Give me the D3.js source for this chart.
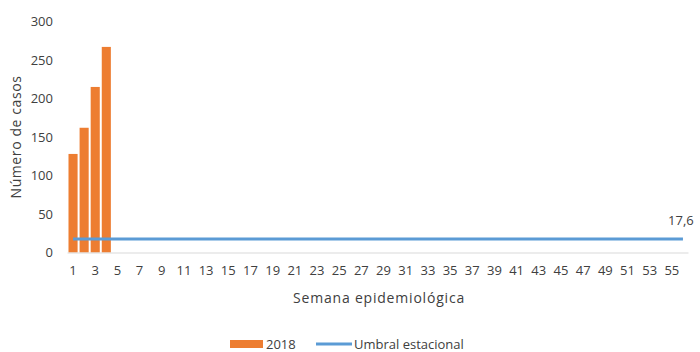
<!DOCTYPE html>
<html><head><meta charset="utf-8">
<script src="https://cdn.jsdelivr.net/npm/d3@7"></script>
<style>body{margin:0;background:#fff;} text{font-family:"Open Sans",sans-serif;fill:#404040;}</style>
</head><body>
<svg id="c" width="700" height="352"></svg>
<script>
const weeks = d3.range(1, 57);
const cases2018 = [128, 162, 215, 267];
const threshold = 17.6;
const yTicks = [0, 50, 100, 150, 200, 250, 300];
const xTickLabels = weeks.filter(w => w % 2 === 1);

const svg = d3.select("#c");
const m = {l: 67.5, r: 688.5, t: 21.5, b: 252.5};
const x = d3.scaleBand().domain(weeks).range([m.l, m.r]).paddingInner(0.18).paddingOuter(0.09);
const y = d3.scaleLinear().domain([0, 300]).range([m.b, m.t]);

// y axis labels
svg.append("g").selectAll("text").data(yTicks).join("text")
  .attr("x", 53).attr("y", d => y(d)).attr("dy", "0.35em")
  .attr("text-anchor", "end").attr("font-size", 13).text(d => d);

// bars
svg.append("g").selectAll("rect").data(cases2018).join("rect")
  .attr("x", (d, i) => x(weeks[i])).attr("width", x.bandwidth())
  .attr("y", d => y(d)).attr("height", d => y(0) - y(d))
  .attr("fill", "#ED7D31");

// x axis line
svg.append("line").attr("x1", m.l).attr("x2", m.r).attr("y1", y(0) + 0.5).attr("y2", y(0) + 0.5)
  .attr("stroke", "#d9d9d9").attr("stroke-width", 1);

// threshold line
const cx = w => x(w) + x.bandwidth() / 2;
svg.append("path")
  .datum(weeks)
  .attr("d", d3.line().x(w => cx(w)).y(() => y(threshold)))
  .attr("fill", "none").attr("stroke", "#5B9BD5").attr("stroke-width", 3);

svg.append("text").attr("x", cx(56) - 2).attr("y", y(threshold) - 14)
  .attr("text-anchor", "middle").attr("font-size", 13).text("17,6");

// x tick labels
svg.append("g").selectAll("text").data(xTickLabels).join("text")
  .attr("x", d => cx(d)).attr("y", 275)
  .attr("text-anchor", "middle").attr("font-size", 13).text(d => d);

// axis titles
svg.append("text").attr("x", 379).attr("y", 303).attr("text-anchor", "middle")
  .attr("font-size", 14).attr("letter-spacing", 0.8).text("Semana epidemiológica");
svg.append("text").attr("transform", "translate(21,137) rotate(-90)")
  .attr("text-anchor", "middle").attr("font-size", 14).attr("letter-spacing", 0.6).text("Número de casos");

// legend
const lg = svg.append("g");
lg.append("rect").attr("x", 230).attr("y", 340).attr("width", 33).attr("height", 8).attr("fill", "#ED7D31");
lg.append("text").attr("x", 266).attr("y", 344).attr("dy", "0.35em").attr("font-size", 13).text("2018");
lg.append("line").attr("x1", 316).attr("x2", 352).attr("y1", 344).attr("y2", 344)
  .attr("stroke", "#5B9BD5").attr("stroke-width", 3);
lg.append("text").attr("x", 354).attr("y", 344).attr("dy", "0.35em").attr("font-size", 13).text("Umbral estacional");
</script>
</body></html>
